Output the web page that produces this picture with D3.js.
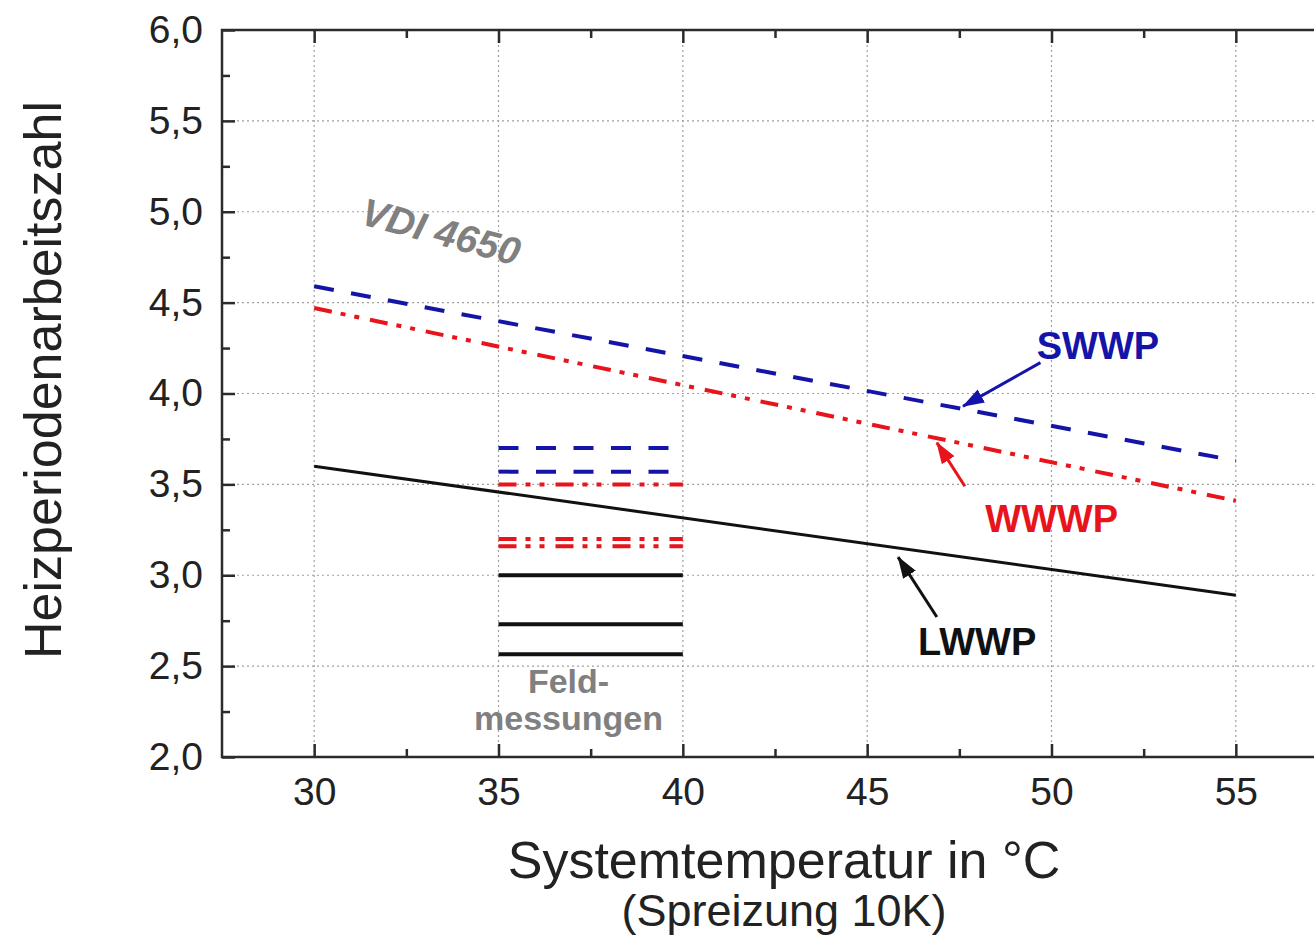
<!DOCTYPE html>
<html>
<head>
<meta charset="utf-8">
<script src="https://cdn.jsdelivr.net/npm/d3@7"></script>
<style>
  body { margin: 0; background: #fff; }
  svg { display: block; font-family: "Liberation Sans", Arial, sans-serif; }
</style>
</head>
<body>
<div id="chart"></div>
<script>
// VDI 4650 values (straight lines, read at the end points)
var vdiTemps = [30, 55];
var swwpVdi = [4.59, 3.63];
var wwwpVdi = [4.47, 3.41];
var lwwpVdi = [3.60, 2.89];

// field measurements, each drawn from 35 to 40 °C
var fieldTemps = [35, 40];
var swwpField = [3.70, 3.57];
var wwwpField = [3.50, 3.20, 3.16];
var lwwpField = [3.00, 2.73, 2.565];

var xTicks = [30, 35, 40, 45, 50, 55];
var xMinor = [32.5, 37.5, 42.5, 47.5, 52.5];
var yTicks = [2.0, 2.5, 3.0, 3.5, 4.0, 4.5, 5.0, 5.5, 6.0];
var yMinor = [2.25, 2.75, 3.25, 3.75, 4.25, 4.75, 5.25, 5.75];

var blue = "#1414a8", red = "#e8141c", black = "#111";
var styles = {
  SWWP: {color: blue, width: 4, dash: "20,17.5"},
  WWWP: {color: red, width: 4, dash: "18,9,5,9,5,11"},
  LWWP: {color: black, width: 3, dash: null}
};

var svgWidth = 1314, svgHeight = 939;
var margin = {top: 30, left: 222};
var width = 1106, height = 727;

var svg = d3.select("#chart").append("svg")
  .attr("width", svgWidth)
  .attr("height", svgHeight);

// arrow heads
var defs = svg.append("defs");
Object.keys(styles).forEach(function(k) {
  defs.append("marker")
    .attr("id", "arrow-" + k)
    .attr("markerUnits", "userSpaceOnUse")
    .attr("viewBox", "0 0 22 15")
    .attr("markerWidth", 22)
    .attr("markerHeight", 15)
    .attr("refX", 21)
    .attr("refY", 7.5)
    .attr("orient", "auto")
    .append("path")
    .attr("d", "M0,0 L22,7.5 L0,15 Z")
    .attr("fill", styles[k].color);
});

var x = d3.scaleLinear().domain([27.5, 57.5]).range([0, width]);
var y = d3.scaleLinear().domain([2, 6]).range([height, 0]);

var chartGroup = svg.append("g")
  .attr("transform", `translate(${margin.left}, ${margin.top})`);

// dotted grid
chartGroup.selectAll(".vgrid")
  .data(xTicks).enter().append("line")
  .attr("x1", d => x(d)).attr("x2", d => x(d))
  .attr("y1", 0).attr("y2", height)
  .attr("stroke", "#a0a0a0").attr("stroke-width", 1.2)
  .attr("stroke-dasharray", "2,3");

chartGroup.selectAll(".hgrid")
  .data(yTicks.slice(1, -1)).enter().append("line")
  .attr("x1", 0).attr("x2", width)
  .attr("y1", d => y(d)).attr("y2", d => y(d))
  .attr("stroke", "#a0a0a0").attr("stroke-width", 1.2)
  .attr("stroke-dasharray", "2,3");

var fmt = d => d3.format(".1f")(d).replace(".", ",");

function styleAxis(sel) {
  sel.select(".domain").remove();
  sel.selectAll(".tick line").attr("stroke", "#2b2b2b").attr("stroke-width", 2.5);
  sel.selectAll("text").attr("fill", "#222").style("font-size", "39px")
    .style("font-family", "'Liberation Sans', Arial, sans-serif");
}

// axes: major + minor, ticks pointing inward
chartGroup.append("g")
  .attr("transform", `translate(0, ${height})`)
  .call(d3.axisBottom(x).tickValues(xTicks).tickSizeInner(-13).tickSizeOuter(0).tickPadding(20).tickFormat(d3.format("d")))
  .call(styleAxis);
chartGroup.append("g")
  .attr("transform", `translate(0, ${height})`)
  .call(d3.axisBottom(x).tickValues(xMinor).tickSizeInner(-8).tickSizeOuter(0).tickFormat(""))
  .call(styleAxis);
chartGroup.append("g")
  .call(d3.axisTop(x).tickValues(xTicks).tickSizeInner(-13).tickSizeOuter(0).tickFormat(""))
  .call(styleAxis);
chartGroup.append("g")
  .call(d3.axisTop(x).tickValues(xMinor).tickSizeInner(-8).tickSizeOuter(0).tickFormat(""))
  .call(styleAxis);
chartGroup.append("g")
  .call(d3.axisLeft(y).tickValues(yTicks).tickSizeInner(-13).tickSizeOuter(0).tickPadding(19).tickFormat(fmt))
  .call(styleAxis);
chartGroup.append("g")
  .call(d3.axisLeft(y).tickValues(yMinor).tickSizeInner(-8).tickSizeOuter(0).tickFormat(""))
  .call(styleAxis);
chartGroup.append("g")
  .attr("transform", `translate(${width}, 0)`)
  .call(d3.axisRight(y).tickValues(yTicks).tickSizeInner(-13).tickSizeOuter(0).tickFormat(""))
  .call(styleAxis);

// frame
chartGroup.append("rect")
  .attr("x", 0).attr("y", 0)
  .attr("width", width).attr("height", height)
  .attr("fill", "none")
  .attr("stroke", "#2b2b2b").attr("stroke-width", 2.5);

var line = d3.line().x(d => x(d[0])).y(d => y(d[1]));

// VDI 4650 lines
[["SWWP", swwpVdi], ["WWWP", wwwpVdi], ["LWWP", lwwpVdi]].forEach(function(s) {
  var st = styles[s[0]];
  chartGroup.append("path")
    .datum(vdiTemps.map((t, i) => [t, s[1][i]]))
    .attr("d", line)
    .attr("fill", "none")
    .attr("stroke", st.color)
    .attr("stroke-width", st.width)
    .attr("stroke-dasharray", st.dash);
});

// field measurements
[["SWWP", swwpField], ["WWWP", wwwpField], ["LWWP", lwwpField]].forEach(function(s) {
  var st = styles[s[0]];
  s[1].forEach(function(v) {
    chartGroup.append("path")
      .datum(fieldTemps.map(t => [t, v]))
      .attr("d", line)
      .attr("fill", "none")
      .attr("stroke", st.color)
      .attr("stroke-width", 4)
      .attr("stroke-dasharray", st.dash);
  });
});

// labels with arrows (data coordinates)
var labels = [
  {name: "SWWP", x: 49.6, y: 4.19, from: [49.7, 4.17], to: [47.6, 3.93]},
  {name: "WWWP", x: 48.2, y: 3.24, from: [47.65, 3.49], to: [46.89, 3.73]},
  {name: "LWWP", x: 46.38, y: 2.56, from: [46.89, 2.77], to: [45.84, 3.10]}
];
labels.forEach(function(l) {
  var st = styles[l.name];
  chartGroup.append("line")
    .attr("x1", x(l.from[0])).attr("y1", y(l.from[1]))
    .attr("x2", x(l.to[0])).attr("y2", y(l.to[1]))
    .attr("stroke", st.color).attr("stroke-width", 3)
    .attr("marker-end", `url(#arrow-${l.name})`);
  chartGroup.append("text")
    .attr("x", x(l.x)).attr("y", y(l.y))
    .attr("fill", st.color)
    .style("font-size", "38px").style("font-weight", "bold")
    .text(l.name);
});

chartGroup.append("text")
  .attr("transform", `translate(${x(33.44)}, ${y(4.89)}) rotate(15)`)
  .attr("text-anchor", "middle")
  .attr("dominant-baseline", "central")
  .attr("fill", "#808080")
  .style("font-size", "39px").style("font-weight", "bold").style("font-style", "italic")
  .text("VDI 4650");

chartGroup.append("text")
  .attr("x", x(36.9)).attr("y", y(2.35))
  .attr("text-anchor", "middle").attr("fill", "#808080")
  .style("font-size", "34px").style("font-weight", "bold")
  .text("Feld-");
chartGroup.append("text")
  .attr("x", x(36.9)).attr("y", y(2.15))
  .attr("text-anchor", "middle").attr("fill", "#808080")
  .style("font-size", "34px").style("font-weight", "bold")
  .text("messungen");

// axis titles
svg.append("text")
  .attr("transform", "translate(61, 380) rotate(-90)")
  .attr("text-anchor", "middle")
  .attr("fill", "#222")
  .style("font-size", "52px")
  .text("Heizperiodenarbeitszahl");

svg.append("text")
  .attr("x", 784).attr("y", 878)
  .attr("text-anchor", "middle")
  .attr("fill", "#222")
  .style("font-size", "52px")
  .text("Systemtemperatur in °C");

svg.append("text")
  .attr("x", 784).attr("y", 926)
  .attr("text-anchor", "middle")
  .attr("fill", "#222")
  .style("font-size", "45px")
  .text("(Spreizung 10K)");
</script>
</body>
</html>
